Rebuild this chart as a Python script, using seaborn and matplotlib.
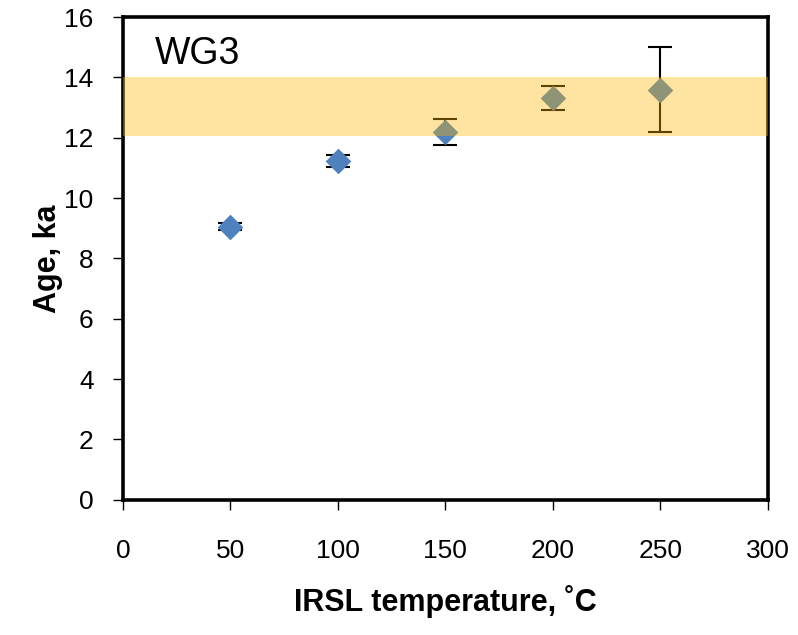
import matplotlib
matplotlib.use("Agg")
import matplotlib.pyplot as plt
import seaborn as sns
import pandas as pd

temperature = [50, 100, 150, 200, 250]
age = [9.05, 11.23, 12.18, 13.33, 13.60]
age_err = [0.12, 0.2, 0.43, 0.4, 1.4]
band_low, band_high = 12.05, 14.0
label = "WG3"

sns.set_theme(style="white")
plt.rcParams['font.family'] = ['Liberation Sans', 'DejaVu Sans']
plt.rcParams['text.color'] = 'black'
plt.rcParams['axes.labelcolor'] = 'black'
plt.rcParams['xtick.color'] = 'black'
plt.rcParams['ytick.color'] = 'black'

df = pd.DataFrame({"temp": temperature, "age": age, "err": age_err})

fig = plt.figure(figsize=(7.98, 6.35), dpi=100)
ax = fig.add_axes([0.154, 0.213, 0.808, 0.760])

ax.errorbar(df["temp"], df["age"], yerr=df["err"], fmt="none", ecolor="black",
            elinewidth=1.5, capsize=8.5, capthick=1.5, zorder=2)
sns.scatterplot(data=df, x="temp", y="age", marker="D", s=170, color="#4F81BD",
                edgecolor="#4F81BD", linewidth=0, ax=ax, zorder=3)
ax.axhspan(band_low, band_high, color="#FFB600", alpha=0.37, lw=0, zorder=4)

ax.set_xlim(0, 300)
ax.set_ylim(0, 16)
ax.set_xticks(range(0, 301, 50))
ax.set_yticks(range(0, 17, 2))
ax.tick_params(axis="both", which="both", direction="out", length=7, width=1.0,
               color="black", labelcolor="black", bottom=True, left=True)
ax.tick_params(axis="y", labelsize=19, pad=14)
ax.tick_params(axis="x", labelsize=19, pad=21)
for s in ax.spines.values():
    s.set_color("black")
    s.set_linewidth(2.6)

ax.set_xlabel("IRSL temperature, ˚C", fontsize=22, fontweight="bold",
              color="black", labelpad=16)
ax.set_ylabel("Age, ka", fontsize=22, fontweight="bold", color="black",
              labelpad=1)
ax.text(0.05, 0.903, label, transform=ax.transAxes, fontsize=27,
        color="black", va="baseline", ha="left")

fig.savefig("out.png", dpi=100)
